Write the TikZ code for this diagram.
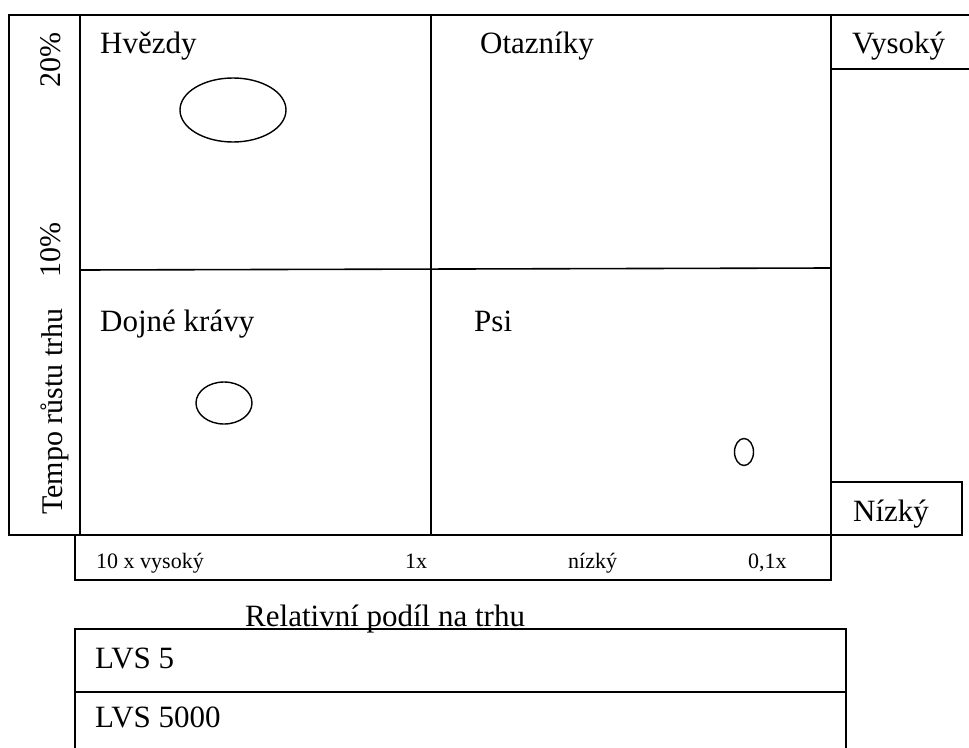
\documentclass[tikz,border=0pt]{standalone}
\usepackage{fontspec}
\setmainfont{Liberation Serif}
\usetikzlibrary{shapes.geometric}
\begin{document}
\begin{tikzpicture}[x=1pt,y=-1pt,
  ln/.style={line width=1.6pt,line cap=rect},
  lbl/.style={anchor=base west,inner sep=0pt,font=\fontsize{31}{36}\selectfont},
  axlbl/.style={anchor=base west,inner sep=0pt,font=\fontsize{22}{26}\selectfont},
  vlbl/.style={anchor=base west,inner sep=0pt,rotate=90,font=\fontsize{30}{36}\selectfont},
  bub/.style={draw,ellipse,line width=1.4pt,inner sep=0pt}]
\useasboundingbox (0,0) rectangle (969,747);
% frame of the matrix
\draw[ln] (9,15) -- (972,15);
\draw[ln] (9,15) -- (9,535) -- (962,535);
\draw[ln] (80,15) -- (80,535);
\draw[ln] (431,15) -- (431,535);
\draw[ln] (80,270) -- (831,268);
\draw[ln] (831,15) -- (831,580);
% Vysoky box
\draw[ln] (831,69) -- (972,69);
% Nizky box
\draw[ln] (831,482) -- (962,482) -- (962,535);
% axis box
\draw[ln] (75,535) -- (75,580) -- (831,580);
% LVS box
\draw[ln] (75,760) -- (75,629) -- (846,629) -- (846,760);
\draw[ln] (75,692) -- (846,692);
% labels
\node[lbl] (hv) at (100,53) {Hvězdy};
\node[lbl] (ot) at (480,53) {Otazníky};
\node[lbl] (vy) at (852,53) {Vysoký};
\node[lbl] (dk) at (100,331) {Dojné krávy};
\node[lbl] (ps) at (474,331) {Psi};
\node[lbl] (ni) at (853,521) {Nízký};
\node[vlbl] (p20) at (60,88) {20\%};
\node[vlbl] (p10) at (60,278) {10\%};
\node[vlbl] (tr) at (62,515) {Tempo růstu trhu};
\node[axlbl] (a1) at (96,568) {10 x vysoký};
\node[axlbl] (a2) at (405,568) {1x};
\node[axlbl] (a3) at (568,568) {nízký};
\node[axlbl] (a4) at (748,568) {0,1x};
\node[lbl] (rp) at (245,626) {Relativní podíl na trhu};
\node[lbl] (l5) at (95,668) {LVS 5};
\node[lbl] (l5000) at (95,727) {LVS 5000};
% bubbles
\node[bub,minimum width=106pt,minimum height=64pt] (b1) at (233,110) {};
\node[bub,minimum width=56pt,minimum height=42pt] (b2) at (224,403) {};
\node[bub,minimum width=19pt,minimum height=27pt] (b3) at (744,452) {};
\end{tikzpicture}
\end{document}
